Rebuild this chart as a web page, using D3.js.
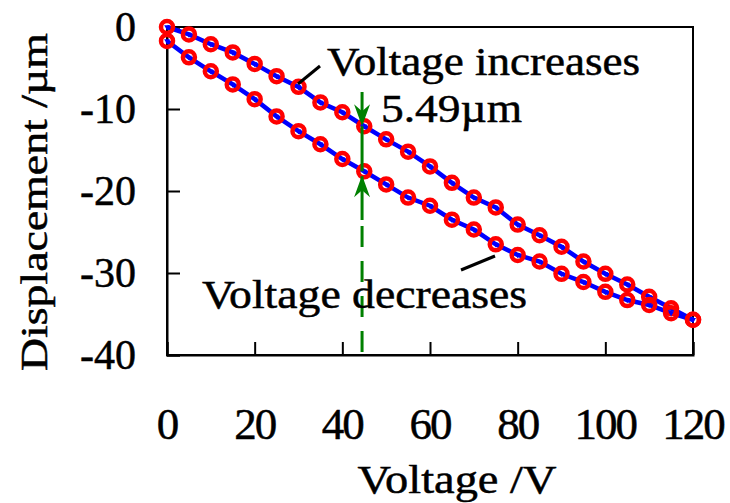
<!DOCTYPE html>
<html><head><meta charset="utf-8">
<script src="https://cdn.jsdelivr.net/npm/d3@7"></script>
<style>html,body{margin:0;padding:0;background:#fff;}svg{display:block;} text{font-family:"Liberation Serif","Times New Roman",serif;}</style>
</head><body>
<script>
const voltage = [0,5,10,15,20,25,30,35,40,45,50,55,60,65,70,75,80,85,90,95,100,105,110,115,120];
const increasing = [0,-0.9,-2.1,-3.1,-4.5,-6.0,-7.3,-9.2,-10.4,-12.1,-13.7,-15.2,-17.0,-19.0,-20.8,-22.0,-24.1,-25.4,-26.8,-28.6,-30.1,-31.4,-32.9,-34.3,-35.7];
const decreasing = [-1.7,-3.7,-5.4,-7.0,-8.8,-10.9,-12.7,-14.3,-16.1,-17.6,-19.2,-20.8,-21.8,-23.5,-24.7,-26.5,-27.8,-28.6,-30.1,-31.1,-32.3,-33.3,-33.9,-34.9,-35.7];
const xTicks = [0,20,40,60,80,100,120];
const yTicks = [0,-10,-20,-30,-40];
const markV = 44.5;
const gap = "5.49\u00b5m";

const W = 730, H = 503;
const svg = d3.select("body").append("svg").attr("width", W).attr("height", H);
const x = d3.scaleLinear().domain([0,120]).range([167,693]);
const y = d3.scaleLinear().domain([-40,0]).range([355,27]);
const txt = sel => sel.attr("fill","#000").attr("stroke","#000").attr("stroke-width",0.5);

// frame
svg.append("rect").attr("x",x(0)).attr("y",y(0)).attr("width",x(120)-x(0)).attr("height",y(-40)-y(0))
  .attr("fill","none").attr("stroke","#000").attr("stroke-width",2);

// axes (inward ticks)
const xa = svg.append("g").attr("transform",`translate(0,${y(-40)})`)
  .call(d3.axisBottom(x).tickValues(xTicks).tickSize(-13).tickFormat(""));
const ya = svg.append("g").attr("transform",`translate(${x(0)},0)`)
  .call(d3.axisLeft(y).tickValues(yTicks).tickSize(-13).tickFormat(""));
[xa,ya].forEach(g=>{g.select(".domain").attr("stroke","#000").attr("stroke-width",2);
  g.selectAll(".tick line").attr("stroke","#000").attr("stroke-width",2);});

// tick labels
svg.append("g").selectAll("text").data(xTicks).join("text")
  .attr("x",d=>x(d)).attr("y",439).attr("text-anchor","middle")
  .attr("font-size",45).attr("letter-spacing",-2).call(txt).text(d=>d);
svg.append("g").selectAll("text").data(yTicks).join("text")
  .attr("x",136).attr("y",d=>y(d)+14).attr("text-anchor","end")
  .attr("font-size",42).attr("letter-spacing",0).call(txt).text(d=>d);

// axis titles
svg.append("text").attr("x",457).attr("y",493).attr("text-anchor","middle")
  .attr("font-size",41).attr("textLength",199).attr("lengthAdjust","spacingAndGlyphs").call(txt).text("Voltage /V");
svg.append("text").attr("transform","translate(47,202) rotate(-90)").attr("text-anchor","middle")
  .attr("font-size",38).attr("textLength",338).attr("lengthAdjust","spacingAndGlyphs").call(txt).text("Displacement /\u00b5m");

// series
const line = d3.line().x((d,i)=>x(voltage[i])).y(d=>y(d));
[increasing, decreasing].forEach(s=>{
  svg.append("path").datum(s).attr("d",line).attr("fill","none").attr("stroke","#0000ff").attr("stroke-width",4.5);
});
[increasing, decreasing].forEach(s=>{
  const g = svg.append("g");
  g.selectAll("circle").data(s).join("circle")
    .attr("cx",(d,i)=>x(voltage[i])).attr("cy",d=>y(d)).attr("r",6)
    .attr("fill","none").attr("stroke","#ff0000").attr("stroke-width",4.5);
  g.selectAll("path").data(s).join("path")
    .attr("transform",(d,i)=>`translate(${x(voltage[i])},${y(d)}) rotate(180)`)
    .attr("d",d3.symbol(d3.symbolTriangle,14)).attr("fill","#0000ff");
});

// green marker
const gx = x(markV);
const yUp = y(increasing[9]), yDn = y(decreasing[9]);
svg.append("line").attr("x1",gx).attr("x2",gx).attr("y1",92).attr("y2",yUp-6).attr("stroke","#008000").attr("stroke-width",3);
svg.append("line").attr("x1",gx).attr("x2",gx).attr("y1",yUp).attr("y2",yDn).attr("stroke","#008000").attr("stroke-width",3);
svg.append("line").attr("x1",gx).attr("x2",gx).attr("y1",yDn+5).attr("y2",220).attr("stroke","#008000").attr("stroke-width",3);
svg.append("line").attr("x1",gx).attr("x2",gx).attr("y1",226).attr("y2",y(-40)).attr("stroke","#008000").attr("stroke-width",3)
  .attr("stroke-dasharray","21,14");
function arrow(tipY, dir){ // dir 1 = pointing down, -1 = pointing up
  const L=22, w=8, n=7;
  return `M${gx},${tipY} L${gx-w},${tipY-dir*L} L${gx},${tipY-dir*(L-n)} L${gx+w},${tipY-dir*L} Z`;
}
svg.append("path").attr("d",arrow(yUp,1)).attr("fill","#008000");
svg.append("path").attr("d",arrow(yDn+4,-1)).attr("fill","#008000");

// annotations
svg.append("line").attr("x1",298).attr("y1",84).attr("x2",320).attr("y2",66).attr("stroke","#000").attr("stroke-width",3);
svg.append("line").attr("x1",461).attr("y1",270).attr("x2",495).attr("y2",256).attr("stroke","#000").attr("stroke-width",3);
svg.append("text").attr("x",327).attr("y",75).attr("font-size",40)
  .attr("textLength",313).attr("lengthAdjust","spacingAndGlyphs").call(txt).text("Voltage increases");
svg.append("text").attr("x",381).attr("y",122).attr("font-size",40)
  .attr("textLength",141).attr("lengthAdjust","spacingAndGlyphs").call(txt).text(gap);
svg.append("text").attr("x",202).attr("y",308).attr("font-size",40)
  .attr("textLength",325).attr("lengthAdjust","spacingAndGlyphs").call(txt).text("Voltage decreases");
</script>
</body></html>
